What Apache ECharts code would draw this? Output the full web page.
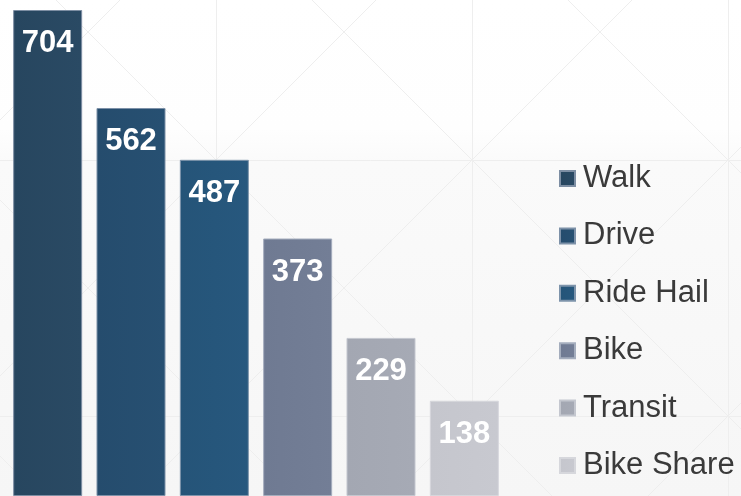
<!DOCTYPE html>
<html>
<head>
<meta charset="utf-8">
<script src="https://cdn.jsdelivr.net/npm/echarts@6/dist/echarts.min.js"></script>
<style>
  html, body { margin: 0; padding: 0; background: #fff; }
  #chart { width: 741px; height: 496px; }
</style>
</head>
<body>
<div id="chart"></div>
<script>
// data
const modes = ['Walk', 'Drive', 'Ride Hail', 'Bike', 'Transit', 'Bike Share']
const trips = [704, 562, 487, 373, 229, 138]
const fills = ['#27465f', '#254c6d', '#255478', '#6f7a92', '#a3a7b2', '#c5c6cd']
const fillsLight = ['#2a4a64', '#275072', '#27587e', '#737e96', '#a6aab5', '#c8c9d0']
const borders = ['#7d8ea3', '#7d91a8', '#7e94ab', '#a4adbd', '#c4c7cf', '#d6d7dc']

const chart = echarts.init(document.getElementById('chart'))

// background pattern: square grid with diagonals (decoration only)
const bg = [{
  type: 'rect',
  shape: { x: 0, y: 0, width: 741, height: 496 },
  style: {
    fill: new echarts.graphic.LinearGradient(0, 0, 0, 1, [
      { offset: 0, color: '#ffffff' },
      { offset: 0.26, color: '#fefefe' },
      { offset: 0.33, color: '#fafafa' },
      { offset: 1, color: '#f6f6f6' }
    ])
  },
  z: -10
}]
const lineStyle = { stroke: '#eeeeee', lineWidth: 1 }
for (let k = -1; k < 3; k++) {
  const x = 216 + 256 * k + 0.5
  bg.push({ type: 'line', shape: { x1: x, y1: 0, x2: x, y2: 496 }, style: lineStyle, z: -9 })
  const y = 160 + 256 * k + 0.5
  bg.push({ type: 'line', shape: { x1: 0, y1: y, x2: 741, y2: y }, style: lineStyle, z: -9 })
}
for (let k = -3; k < 5; k++) {
  const c1 = 56 + 256 * k
  bg.push({ type: 'line', shape: { x1: c1 - 50, y1: -50, x2: c1 + 600, y2: 600 }, style: lineStyle, z: -9 })
  const c2 = 120 + 256 * k
  bg.push({ type: 'line', shape: { x1: c2 + 50, y1: -50, x2: c2 - 600, y2: 600 }, style: lineStyle, z: -9 })
}

const series = modes.map((name, i) => ({
  name: name,
  type: 'bar',
  stack: 'mode',
  barWidth: 69,
  data: trips.map((v, j) => (j === i ? v : null)),
  itemStyle: {
    color: new echarts.graphic.LinearGradient(0, 0, 1, 0, [
      { offset: 0, color: fills[i] },
      { offset: 1, color: fillsLight[i] }
    ]),
    borderColor: borders[i],
    borderWidth: 1
  },
  label: {
    show: true,
    position: 'insideTop',
    distance: 18,
    color: '#fff',
    fontFamily: 'Liberation Sans, Arial, sans-serif',
    fontWeight: 'bold',
    fontSize: 31
  },
  emphasis: { disabled: true }
}))

chart.setOption({
  animation: false,
  graphic: bg,
  grid: { left: 6, width: 500, top: 10, bottom: -2 },
  xAxis: {
    type: 'category',
    data: modes,
    show: false
  },
  yAxis: {
    type: 'value',
    min: 0,
    max: 'dataMax',
    show: false
  },
  legend: {
    orient: 'vertical',
    left: 559,
    top: 163,
    padding: 0,
    itemWidth: 15,
    itemHeight: 15,
    itemGap: 26.4,
    icon: 'rect',
    textStyle: {
      fontFamily: 'Liberation Sans, Arial, sans-serif',
      fontSize: 31,
      lineHeight: 31,
      color: '#3a3a3a',
      padding: [0, 0, 0, 3]
    },
    data: modes
  },
  series: series
})
</script>
</body>
</html>
